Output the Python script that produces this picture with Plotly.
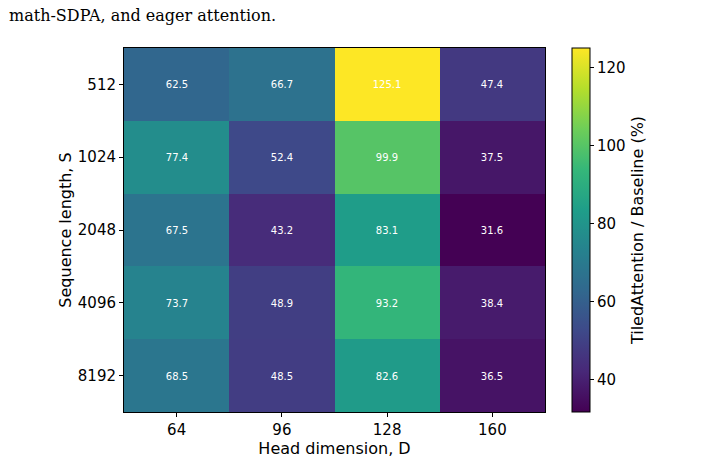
import plotly.graph_objects as go

head_dims = ["64", "96", "128", "160"]
seq_lens = ["512", "1024", "2048", "4096", "8192"]
ratios = [
    [62.5, 66.7, 125.1, 47.4],
    [77.4, 52.4, 99.9, 37.5],
    [67.5, 43.2, 83.1, 31.6],
    [73.7, 48.9, 93.2, 38.4],
    [68.5, 48.5, 82.6, 36.5],
]
caption = "math-SDPA, and eager attention."

font_sans = "DejaVu Sans"

fig = go.Figure(
    go.Heatmap(
        x=head_dims,
        y=seq_lens,
        z=ratios,
        colorscale="Viridis",
        texttemplate="%{z:.1f}",
        textfont=dict(color="white", size=10, family=font_sans),
        xgap=0, ygap=0,
        colorbar=dict(
            x=1.064, xanchor="left", xpad=0,
            y=0.5, yanchor="middle", len=1.0, lenmode="fraction", ypad=0,
            thickness=18, outlinecolor="black", outlinewidth=1,
            tickvals=[40, 60, 80, 100, 120],
            ticks="outside", ticklen=4, tickcolor="black",
            tickfont=dict(size=15, family=font_sans, color="black"),
            title=dict(text="TiledAttention / Baseline (%)", side="right",
                       font=dict(size=16, family=font_sans, color="black")),
        ),
    )
)

fig.update_xaxes(
    type="category", showline=True, linecolor="black", linewidth=1, mirror=True,
    ticks="outside", ticklen=4, tickcolor="black",
    tickfont=dict(size=15, family=font_sans, color="black"),
    title=dict(text="Head dimension, D", font=dict(size=16, family=font_sans, color="black"), standoff=2),
)
fig.update_yaxes(
    type="category", autorange="reversed", showline=True, linecolor="black", linewidth=1, mirror=True,
    ticks="outside", ticklen=4, tickcolor="black",
    tickfont=dict(size=15, family=font_sans, color="black"),
    title=dict(text="Sequence length, S", font=dict(size=16, family=font_sans, color="black"), standoff=2),
)

fig.add_annotation(
    text=caption, xref="paper", yref="paper", x=-117/421, y=1 + 33/364,
    xanchor="left", yanchor="middle", showarrow=False,
    font=dict(size=16, family="DejaVu Serif, serif", color="black"),
)

fig.update_layout(
    width=704, height=474,
    margin=dict(l=124, r=159, t=48, b=62),
    paper_bgcolor="white", plot_bgcolor="white",
)

fig.write_html("out.html")
